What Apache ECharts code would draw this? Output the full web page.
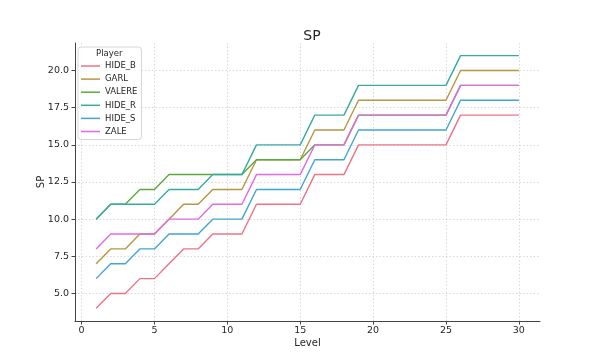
<!DOCTYPE html>
<html>
<head>
<meta charset="utf-8">
<script src="https://cdn.jsdelivr.net/npm/echarts@6/dist/echarts.min.js"></script>
<style>
html,body{margin:0;padding:0;background:#fff;}
#chart{width:600px;height:360px;}
</style>
</head>
<body>
<div id="chart"></div>
<script>
var levels = [1,2,3,4,5,6,7,8,9,10,11,12,13,14,15,16,17,18,19,20,21,22,23,24,25,26,27,28,29,30];
var playerNames = ['HIDE_B','GARL','VALERE','HIDE_R','HIDE_S','ZALE'];
var hideB  = [4,5,5,6,6,7,8,8,9,9,9,11,11,11,11,13,13,13,15,15,15,15,15,15,15,17,17,17,17,17];
var garl   = [7,8,8,9,9,10,11,11,12,12,12,14,14,14,14,16,16,16,18,18,18,18,18,18,18,20,20,20,20,20];
var valere = [10,11,11,12,12,13,13,13,13,13,13,14,14,14,14,15,15,15,17,17,17,17,17,17,17,19,19,19,19,19];
var hideR  = [10,11,11,11,11,12,12,12,13,13,13,15,15,15,15,17,17,17,19,19,19,19,19,19,19,21,21,21,21,21];
var hideS  = [6,7,7,8,8,9,9,9,10,10,10,12,12,12,12,14,14,14,16,16,16,16,16,16,16,18,18,18,18,18];
var zale   = [8,9,9,9,9,10,10,10,11,11,11,13,13,13,13,15,15,15,17,17,17,17,17,17,17,19,19,19,19,19];
var xTicks = [0,5,10,15,20,25,30];
var yTicks = [5,7.5,10,12.5,15,17.5,20];

var seriesValues = [hideB, garl, valere, hideR, hideS, zale];
var colors = ['#ee7386','#b89640','#5bab3c','#38aaa2','#41a5d0','#e36ae0'];
var font = 'DejaVu Sans';
var txt = '#262626';
var axisCol = '#444444';

var chart = echarts.init(document.getElementById('chart'), null, {renderer:'canvas'});
var series = playerNames.map(function(name, i){
  return {
    name: name,
    type: 'line',
    data: levels.map(function(l, j){ return [l, seriesValues[i][j]]; }),
    showSymbol: false,
    symbol: 'none',
    color: colors[i],
    lineStyle: {width: 1.4, color: colors[i]},
    animation: false
  };
});

chart.setOption({
  animation: false,
  backgroundColor: '#ffffff',
  title: {
    text: 'SP', left: 307, top: 24, textAlign: 'center',
    textStyle: {fontFamily: font, fontSize: 14, fontWeight: 'normal', color: txt}
  },
  graphic: [{
    type: 'text', left: 96, top: 49, z: 100,
    style: {text: 'Player', fontFamily: font, fontSize: 8.5, fill: txt}
  }],
  legend: {
    left: 78, top: 47,
    orient: 'vertical',
    data: playerNames,
    icon: 'rect',
    itemWidth: 19, itemHeight: 1.5, itemGap: 3.1,
    padding: [14, 4, 3, 3],
    borderColor: '#d6d6d6', borderWidth: 1, borderRadius: 3,
    backgroundColor: 'rgba(255,255,255,0.8)',
    textStyle: {fontFamily: font, fontSize: 8.5, color: txt, lineHeight: 10}
  },
  grid: {left: 75, right: 60, top: 43, bottom: 39, containLabel: false},
  xAxis: {
    type: 'value', min: -0.45, max: 31.45,
    name: 'Level', nameLocation: 'middle', nameGap: 17, nameMoveOverlap: false,
    nameTextStyle: {fontFamily: font, fontSize: 10, color: txt},
    axisLine: {show: true, onZero: false, lineStyle: {color: axisCol, width: 1}},
    axisTick: {show: true, length: 3.5, inside: false, customValues: xTicks, lineStyle: {color: axisCol}},
    axisLabel: {customValues: xTicks, margin: 5, fontFamily: font, fontSize: 9.5, color: txt,
      formatter: function(v){ return String(v); }},
    splitLine: {show: true, lineStyle: {type: [1.5, 2], color: '#cfcfcf', width: 0.8}}
  },
  yAxis: {
    type: 'value', min: 3.15, max: 21.85,
    name: 'SP', nameLocation: 'middle', nameGap: 29, nameRotate: 90, nameMoveOverlap: false,
    nameTextStyle: {fontFamily: font, fontSize: 10, color: txt},
    axisLine: {show: true, onZero: false, lineStyle: {color: axisCol, width: 1}},
    axisTick: {show: true, length: 3.5, inside: false, customValues: yTicks, lineStyle: {color: axisCol}},
    axisLabel: {customValues: yTicks, margin: 6, fontFamily: font, fontSize: 9.5, color: txt,
      formatter: function(v){ return v.toFixed(1); }},
    splitLine: {show: true, lineStyle: {type: [1.5, 2], color: '#cfcfcf', width: 0.8}}
  },
  series: series
});
</script>
</body>
</html>
